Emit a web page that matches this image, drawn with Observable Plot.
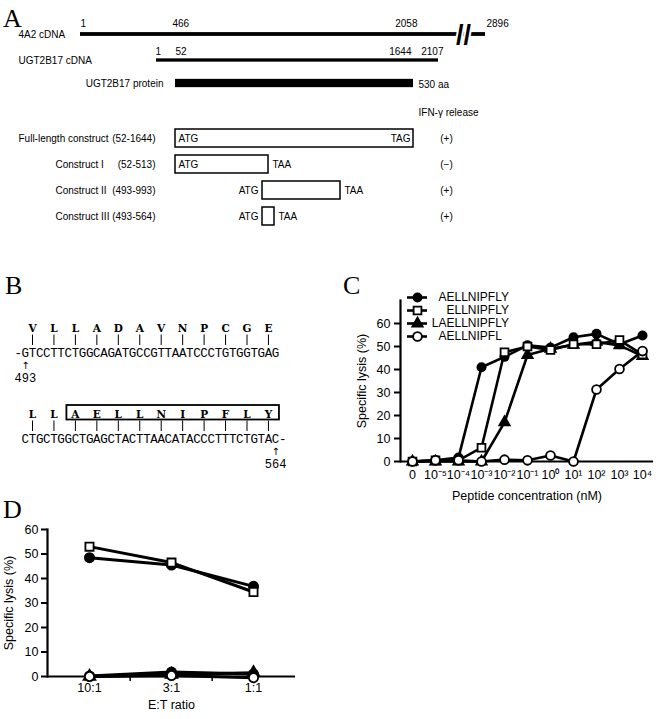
<!DOCTYPE html>
<html><head><meta charset="utf-8">
<script src="https://cdn.jsdelivr.net/npm/d3@7"></script>
<script src="https://cdn.jsdelivr.net/npm/@observablehq/plot@0.6"></script>
<style>
body{margin:0;background:#fff;}
#fig{position:relative;width:656px;height:719px;overflow:hidden;background:#fff;}
.letter{position:absolute;font-family:"Liberation Serif","Times New Roman",serif;font-size:26px;line-height:26px;color:#000;}
svg{overflow:visible;}
</style></head><body><div id="fig"></div>
<script>
// ---------- Panel A data ----------
const cdna4A2Ticks = [1, 466, 2058, 2896];
const ugtCdnaTicks = [1, 52, 1644, 2107];
const proteinSpan = [52, 1644];
const proteinLabel = "530 aa";
const break4A2 = 2720;
const constructNames = ["Full-length construct", "Construct I", "Construct II", "Construct III"];
const constructStart = [52, 52, 493, 493];
const constructEnd = [1644, 513, 993, 564];
const stopCodon = ["TAG", "TAA", "TAA", "TAA"];
const ifnRelease = ["(+)", "(−)", "(+)", "(+)"];

// ---------- Panel B data ----------
const seqLine1 = "GTCCTTCTGGCAGATGCCGTTAATCCCTGTGGTGAG";
const aaLine1 = "VLLADAVNPCGE";
const seqLine2 = "CTGCTGGCTGAGCTACTTAACATACCCTTTCTGTAC";
const aaLine2 = "LLAELLNIPFLY";
const seqStart = 493, seqEnd = 564;
const epitope = "AELLNIPFLY";

// ---------- Panel C data ----------
const concLabels = ["0", "10⁻⁵", "10⁻⁴", "10⁻³", "10⁻²", "10⁻¹", "10⁰", "10¹", "10²", "10³", "10⁴"];
const peptides = ["AELLNIPFLY", "ELLNIPFLY", "LAELLNIPFLY", "AELLNIPFL"];
const lysisAELLNIPFLY  = [0, 0.5, 1.7, 41, 45.5, 50.5, 49.5, 54, 55.5, 51, 54.8];
const lysisELLNIPFLY   = [0, 0.5, 0.5, 6, 47.5, 50, 48.5, 51, 51, 52.8, 46.5];
const lysisLAELLNIPFLY = [0, 0, 0, 0, 17, 46.3, 49, 50.7, 52, 50.5, 45.8];
const lysisAELLNIPFL   = [0, 0.5, 0.5, 0, 0.8, 0.5, 2.6, 0, 31.3, 40.2, 48];

// ---------- Panel D data ----------
const etRatios = ["10:1", "3:1", "1:1"];
const dSeries = ["filled circle", "open square", "filled circle (low)", "filled triangle", "open circle"];
const lysisDCircle = [48.5, 45.5, 36.8];
const lysisDSquare = [53, 46.5, 34.5];
const lysisDCircleLow = [0.2, 1.8, 1.0];
const lysisDTriangle = [0, 0.8, 1.5];
const lysisDOpenCircle = [0, 0.4, -0.5];

// ---------- helpers ----------
const fig = document.getElementById("fig");
function place(el, left, top) { el.style.position = "absolute"; el.style.left = left + "px"; el.style.top = top + "px"; fig.appendChild(el); }
function letter(t, left, top) { const d = document.createElement("div"); d.className = "letter"; d.textContent = t; place(d, left, top); }
const sans = `"Liberation Sans", Arial, Helvetica, sans-serif`;

letter("A", 3, 6); letter("B", 5, 273); letter("C", 343, 273); letter("D", 3, 497);

// ---------- Panel A ----------
{
  const ugtOffset = cdna4A2Ticks[1] - ugtCdnaTicks[1];
  const toUgt = p => p - ugtOffset;
  const knots = Array.from(new Set([...cdna4A2Ticks.map(toUgt), ...ugtCdnaTicks, ...constructStart, ...constructEnd])).sort((a, b) => a - b);
  const knotPx = [80, 156, 175, 262, 268, 274, 340, 413, 438, 485];
  const rows = ["4A2", "UGTcDNA", "protein", "ifn", ...constructNames];
  const bw = 26.7 * 0.7;
  const cons = constructNames.map((n, i) => ({name: n, start: constructStart[i], end: constructEnd[i], stop: stopCodon[i], ifn: ifnRelease[i], range: `(${constructStart[i]}-${constructEnd[i]})`}));
  const natStart = d3.min(constructStart), natStop = "TAG";
  const style4A2 = [["start", 0], ["start", -3], ["end", 4], ["start", 1]];
  const styleUgt = [["start", -1], ["start", 0], ["end", -2], ["end", 5]];
  const numMarks = [];
  cdna4A2Ticks.forEach((t, i) => numMarks.push(Plot.text([t], {x: () => toUgt(t), y: () => "4A2", text: d => String(d), dy: -11, dx: style4A2[i][1], textAnchor: style4A2[i][0]})));
  ugtCdnaTicks.forEach((t, i) => numMarks.push(Plot.text([t], {x: () => t, y: () => "UGTcDNA", text: d => String(d), dy: -9, dx: styleUgt[i][1], textAnchor: styleUgt[i][0]})));
  const plotA = Plot.plot({
    width: 656, height: 240, margin: 0,
    x: {type: "linear", domain: knots, range: knotPx, axis: null},
    y: {type: "band", domain: rows, range: [14.6, 236.2], padding: 0.3, axis: null},
    style: {fontFamily: sans, fontSize: "10px", color: "black", background: "transparent"},
    marks: [
      Plot.barX([{a: toUgt(cdna4A2Ticks[0]), b: toUgt(cdna4A2Ticks[3])}], {x1: "a", x2: "b", y: () => "4A2", fill: "black", insetTop: (bw - 4.5) / 2, insetBottom: (bw - 4.5) / 2}),
      Plot.text(["//"], {x: () => toUgt(break4A2), y: () => "4A2", text: d => d, fontSize: 27, fontWeight: "bold", fontFamily: sans, stroke: "white", strokeWidth: 4, paintOrder: "stroke", fill: "black", dy: 1}),
      Plot.barX([{a: ugtCdnaTicks[0], b: ugtCdnaTicks[3]}], {x1: "a", x2: "b", y: () => "UGTcDNA", fill: "black", insetTop: (bw - 4) / 2, insetBottom: (bw - 4) / 2}),
      Plot.barX([{a: proteinSpan[0], b: proteinSpan[1]}], {x1: "a", x2: "b", y: () => "protein", fill: "black", insetTop: (bw - 9) / 2, insetBottom: (bw - 9) / 2, dy: -3}),
      ...numMarks,
      Plot.text(["4A2 cDNA"], {y: () => "4A2", text: d => d, frameAnchor: "left", dx: 18, textAnchor: "start"}),
      Plot.text(["UGT2B17 cDNA"], {y: () => "UGTcDNA", text: d => d, frameAnchor: "left", dx: 18, textAnchor: "start"}),
      Plot.text(["UGT2B17 protein"], {x: () => proteinSpan[0], y: () => "protein", text: d => d, dx: -12, dy: -3, textAnchor: "end"}),
      Plot.text([proteinLabel], {x: () => proteinSpan[1], y: () => "protein", text: d => d, dx: 5, dy: -2, textAnchor: "start"}),
      Plot.text(["IFN-γ release"], {x: () => proteinSpan[1], y: () => "ifn", text: d => d, dx: 5, textAnchor: "start"}),
      Plot.barX(cons, {x1: "start", x2: "end", y: "name", fill: "white", stroke: "black", strokeWidth: 1.5}),
      Plot.text(cons.filter(d => d.start === natStart), {x: "start", y: "name", text: () => "ATG", dx: 3, textAnchor: "start"}),
      Plot.text(cons.filter(d => d.start !== natStart), {x: "start", y: "name", text: () => "ATG", dx: -4, textAnchor: "end"}),
      Plot.text(cons.filter(d => d.stop === natStop), {x: "end", y: "name", text: "stop", dx: -3, textAnchor: "end"}),
      Plot.text(cons.filter(d => d.stop !== natStop), {x: "end", y: "name", text: "stop", dx: 4, textAnchor: "start"}),
      Plot.text(cons, {x: () => d3.max(constructEnd), y: "name", text: "ifn", dx: 33, textAnchor: "middle"}),
      Plot.text(cons.slice(0, 1), {y: "name", text: "name", frameAnchor: "left", dx: 18, textAnchor: "start"}),
      Plot.text(cons.slice(1), {y: "name", text: "name", frameAnchor: "left", dx: 55, textAnchor: "start"}),
      Plot.text(cons, {y: "name", text: "range", frameAnchor: "left", dx: 155, textAnchor: "end"})
    ]
  });
  place(plotA, 0, 0);
}

// ---------- Panel B ----------
function seqPlot(seq, aa, colOffset, arrowCol, arrowLabel, boxed) {
  const layers = ["aa", "tick", "nt", "arrow", "num"];
  const chars = Array.from(seq).map((c, i) => ({c, col: i + colOffset}));
  const aas = Array.from(aa).map((c, i) => ({c, col: 3 * i + 1}));
  const marks = [];
  if (boxed) {
    const k = aa.indexOf(boxed);
    marks.push(Plot.rect([{a: 3 * k + 1, b: 3 * (k + boxed.length - 1) + 1}], {x1: "a", x2: "b", y1: () => "aa", y2: () => "aa", fill: "none", stroke: "black", strokeWidth: 1.8, insetLeft: -8.5, insetRight: -11, insetTop: -9, insetBottom: -5.5}));
  }
  marks.push(
    Plot.ruleX(aas, {x: "col", y1: () => "aa", y2: () => "nt", insetTop: 6.5, insetBottom: 7, strokeWidth: 1}),
    Plot.text(aas, {x: "col", y: () => "aa", text: "c", fontWeight: "bold", fontSize: 10.5, fontFamily: `"DejaVu Serif", serif`}),
    Plot.text(chars, {x: "col", y: () => "nt", text: "c", fontSize: 12.5}),
    Plot.text([arrowLabel], {x: () => arrowCol, y: () => "arrow", text: () => "↑", fontFamily: "DejaVu Sans", fontSize: 10, dy: 1.5}),
    Plot.text([arrowLabel], {x: () => arrowCol, y: () => "num", text: d => String(d), fontSize: 12, dy: 1.5})
  );
  return Plot.plot({
    width: 300, height: 80, margin: 0,
    x: {type: "linear", domain: [0, 35], range: [24.85, 275.1], axis: null},
    y: {type: "point", domain: layers, range: [16, 67], padding: 0, axis: null},
    style: {fontFamily: `"Liberation Mono", "DejaVu Sans Mono", monospace`, color: "black", background: "transparent"},
    marks
  });
}
place(seqPlot("-" + seqLine1, aaLine1, -1, 0, seqStart, null), 0, 310);
place(seqPlot(seqLine2 + "-", aaLine2, 0, seqLine2.length - 1, seqEnd, epitope), 0, 396);

// ---------- Panel C ----------
const filledC = new Set(["AELLNIPFLY", "LAELLNIPFLY"]);
const cSeries = [lysisAELLNIPFLY, lysisELLNIPFLY, lysisLAELLNIPFLY, lysisAELLNIPFL];
const cRows = peptides.flatMap((p, k) => concLabels.map((c, i) => ({peptide: p, conc: c, lysis: cSeries[k][i]})));
const symC = {domain: peptides, range: ["circle", "square", "triangle", "circle"]};
{
  const plotC = Plot.plot({
    width: 316, height: 225, marginLeft: 60, marginTop: 20, marginBottom: 44, marginRight: 3,
    x: {type: "point", domain: concLabels, padding: 0.41},
    y: {domain: [0, 70]},
    symbol: symC,
    style: {fontFamily: sans, fontSize: "12.5px", color: "black", background: "transparent"},
    marks: [
      Plot.axisY({ticks: d3.range(0, 61, 10), tickSize: 6, tickPadding: 4, strokeWidth: 2, label: "Specific lysis (%)", labelAnchor: "center", labelOffset: 43, labelArrow: "none", fontSize: 12.5}),
      Plot.axisX({tickSize: 0, tickPadding: 9, label: "Peptide concentration (nM)", labelAnchor: "center", labelOffset: 38, labelArrow: "none", fontSize: 12.5}),
      Plot.frame({anchor: "left", strokeWidth: 2.2}),
      Plot.ruleY([0], {strokeWidth: 2.2}),
      Plot.line(cRows, {x: "conc", y: "lysis", z: "peptide", stroke: "black", strokeWidth: 2.6}),
      Plot.dot(cRows.filter(d => filledC.has(d.peptide)), {x: "conc", y: "lysis", symbol: "peptide", fill: "black", r: 5}),
      Plot.dot(cRows.filter(d => !filledC.has(d.peptide)), {x: "conc", y: "lysis", symbol: "peptide", fill: "white", stroke: "black", strokeWidth: 1.8, r: 4.4})
    ]
  });
  place(plotC, 340, 280);
  // legend
  const core = "ELLNIPFL";
  const leg = peptides.map(p => ({p, pre: p.slice(0, p.indexOf(core)), post: p.slice(p.indexOf(core))}));
  const plotL = Plot.plot({
    width: 120, height: 52, margin: 0,
    x: {domain: [0, 1], range: [7, 27], axis: null},
    y: {type: "point", domain: peptides, range: [6, 46], padding: 0, axis: null},
    symbol: symC,
    style: {fontFamily: sans, fontSize: "12px", color: "black", background: "transparent"},
    marks: [
      Plot.ruleY(leg, {y: "p", x1: () => 0, x2: () => 1, strokeWidth: 2.6}),
      Plot.dot(leg.filter(d => filledC.has(d.p)), {x: () => 0.5, y: "p", symbol: "p", fill: "black", r: 5}),
      Plot.dot(leg.filter(d => !filledC.has(d.p)), {x: () => 0.5, y: "p", symbol: "p", fill: "white", stroke: "black", strokeWidth: 1.8, r: 4.4}),
      Plot.text(leg, {x: () => 1, y: "p", text: "pre", dx: 19, textAnchor: "end"}),
      Plot.text(leg, {x: () => 1, y: "p", text: "post", dx: 19, textAnchor: "start"})
    ]
  });
  place(plotL, 400, 290);
}

// ---------- Panel D ----------
{
  const dVals = [lysisDCircle, lysisDSquare, lysisDCircleLow, lysisDTriangle, lysisDOpenCircle];
  const dRows = dSeries.flatMap((s, k) => etRatios.map((r, i) => ({s, r, v: dVals[k][i]})));
  const symD = {domain: dSeries, range: ["circle", "square", "circle", "triangle", "circle"]};
  const openD = new Set(["open square", "open circle"]);
  const step = (330 - 47 - 35) / etRatios.length;
  const plotD = Plot.plot({
    width: 330, height: 209, marginLeft: 47, marginTop: 19, marginBottom: 43, marginRight: 35,
    x: {type: "point", domain: etRatios, padding: 0.5},
    y: {domain: [0, 60]},
    symbol: symD,
    style: {fontFamily: sans, fontSize: "12.5px", color: "black", background: "transparent"},
    marks: [
      Plot.axisY({ticks: d3.range(0, 61, 10), tickSize: 6, tickPadding: 3, strokeWidth: 2, label: "Specific lysis (%)", labelAnchor: "center", labelOffset: 43, labelArrow: "none", fontSize: 12.5}),
      Plot.axisX({tickSize: 0, tickPadding: 7, label: "E:T ratio", labelAnchor: "center", labelOffset: 32, labelArrow: "none", fontSize: 12.5}),
      Plot.frame({anchor: "left", strokeWidth: 2.2}),
      Plot.ruleY([0], {strokeWidth: 2.2}),
      Plot.ruleX(etRatios.slice(1), {x: d => d, y1: () => 0, y2: () => 0, dx: -step / 2, insetBottom: -5, strokeWidth: 1.5}),
      Plot.line(dRows, {x: "r", y: "v", z: "s", stroke: "black", strokeWidth: 3}),
      Plot.dot(dRows.filter(d => !openD.has(d.s)), {x: "r", y: "v", symbol: "s", fill: "black", r: 5.5}),
      Plot.dot(dRows.filter(d => openD.has(d.s)), {x: "r", y: "v", symbol: "s", fill: "white", stroke: "black", strokeWidth: 1.8, r: 4.6})
    ]
  });
  place(plotD, 0, 510);
}
</script></body></html>
